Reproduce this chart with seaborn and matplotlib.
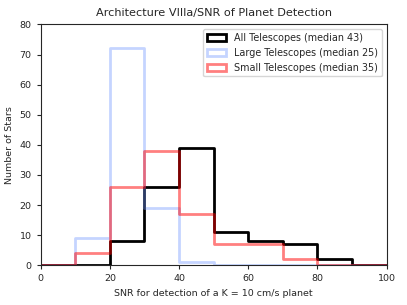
import numpy as np
import matplotlib
matplotlib.use("Agg")
import matplotlib.pyplot as plt
from matplotlib.patches import Patch
import seaborn as sns

# bin edges and counts
bin_edges = [0, 10, 20, 30, 40, 50, 60, 70, 80, 90, 100]
all_counts = [0, 0, 8, 26, 39, 11, 8, 7, 2, 0]
large_counts = [0, 9, 72, 19, 1, 0, 0, 0, 0, 0]
small_counts = [0, 4, 26, 38, 17, 7, 7, 2, 0, 0]
labels = ["All Telescopes (median 43)", "Large Telescopes (median 25)", "Small Telescopes (median 35)"]

sns.set_style("ticks")
plt.rcParams["font.family"] = ["DejaVu Sans"]

centers = [(a + b) / 2 for a, b in zip(bin_edges[:-1], bin_edges[1:])]

fig, ax = plt.subplots(figsize=(4.07, 3.05), dpi=100)

# (counts, colour, alpha) in drawing order
series = [
    (all_counts, "black", 1.0),
    (large_counts, "#6f95ff", 0.4),
    (small_counts, "red", 0.5),
]
for counts, color, alpha in series:
    sns.histplot(x=centers, weights=counts, bins=bin_edges, element="step",
                 fill=False, color=color, alpha=alpha, linewidth=2, ax=ax)

handles = [Patch(facecolor="none", edgecolor=c, alpha=a, linewidth=2) for _, c, a in series]
ax.legend(handles, labels, loc="upper right", fontsize=6.9, frameon=True)

ax.set_xlim(0, 100)
ax.set_ylim(0, 80)
ax.set_xlabel("SNR for detection of a K = 10 cm/s planet", fontsize=6.8)
ax.set_ylabel("Number of Stars", fontsize=6.8)
ax.set_title("Architecture VIIIa/SNR of Planet Detection", fontsize=8.1)
ax.tick_params(labelsize=6.8, length=3)
for s in ax.spines.values():
    s.set_visible(True)

plt.subplots_adjust(left=0.1, right=0.95, bottom=0.13, top=0.92)
fig.savefig("out.png", dpi=100)
